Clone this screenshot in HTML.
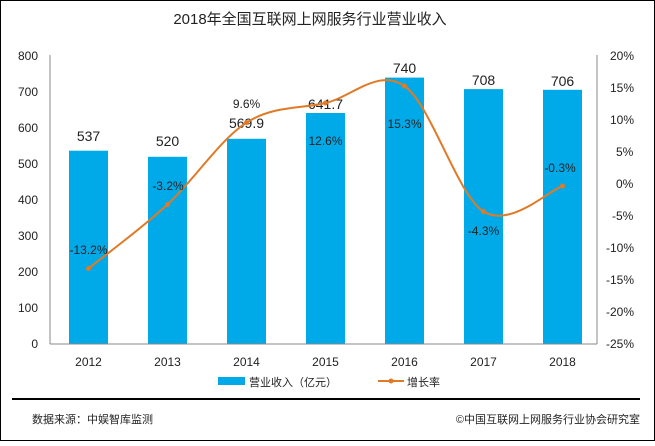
<!DOCTYPE html>
<html><head><meta charset="utf-8"><style>
body{margin:0;background:#fff}
svg text{font-family:"Liberation Sans","Noto Sans CJK SC",sans-serif;fill:#222}
</style></head><body>
<svg width="655" height="441" viewBox="0 0 655 441" xmlns="http://www.w3.org/2000/svg">
<rect x="0.5" y="0.5" width="654" height="440" fill="#fff" stroke="#000"/>
<text x="310" y="24" font-size="15" text-anchor="middle">2018年全国互联网上网服务行业营业收入</text>
<g font-size="12" text-anchor="end">
<text x="38" y="60">800</text><text x="38" y="96">700</text><text x="38" y="132">600</text><text x="38" y="168">500</text><text x="38" y="204">400</text><text x="38" y="240">300</text><text x="38" y="276">200</text><text x="38" y="312">100</text><text x="38" y="348">0</text>
</g>
<g font-size="12" text-anchor="start">
<text x="610" y="60">20%</text><text x="610" y="92">15%</text><text x="610" y="124">10%</text><text x="616" y="156">5%</text><text x="616" y="188">0%</text><text x="612" y="220">-5%</text><text x="606" y="252">-10%</text><text x="606" y="284">-15%</text><text x="606" y="316">-20%</text><text x="606" y="348">-25%</text>
</g>
<g fill="#00aae8">
<rect x="69" y="150.7" width="39" height="193.3"/>
<rect x="148" y="156.8" width="39" height="187.2"/>
<rect x="227" y="138.8" width="39" height="205.2"/>
<rect x="306" y="113" width="39" height="231"/>
<rect x="385" y="77.6" width="39" height="266.4"/>
<rect x="464" y="89.1" width="39" height="254.9"/>
<rect x="543" y="89.8" width="39" height="254.2"/>
</g>
<line x1="50" y1="55" x2="50" y2="344" stroke="#888"/>
<line x1="597" y1="55" x2="597" y2="344" stroke="#888"/>
<line x1="50" y1="344" x2="597" y2="344" stroke="#888"/>
<g font-size="14" text-anchor="middle">
<text x="88.5" y="141">537</text><text x="167.5" y="146">520</text><text x="246.5" y="128">569.9</text><text x="325.5" y="109">641.7</text><text x="404.5" y="73">740</text><text x="483.5" y="85">708</text><text x="562.5" y="86">706</text>
</g>
<path d="M88.5,268.5 C101.7,257.8 141.2,228.8 167.5,204.5 C193.8,180.2 220.2,139.5 246.5,122.6 C272.8,105.7 299.2,109.1 325.5,103 C351.8,96.9 378.2,67.9 404.5,86 C430.8,104.1 457.2,194.8 483.5,211.5 C509.8,228.2 549.3,190.2 562.5,186" fill="none" stroke="#e07a26" stroke-width="2"/>
<g fill="#e07a26"><circle cx="88.5" cy="268.5" r="2.5"/><circle cx="167.5" cy="204.5" r="2.5"/><circle cx="246.5" cy="122.6" r="2.5"/><circle cx="325.5" cy="103" r="2.5"/><circle cx="404.5" cy="86" r="2.5"/><circle cx="483.5" cy="211.5" r="2.5"/><circle cx="562.5" cy="186" r="2.5"/></g>
<g font-size="12" text-anchor="middle">
<text x="88.5" y="254">-13.2%</text><text x="168" y="190">-3.2%</text><text x="246.5" y="108">9.6%</text><text x="325.5" y="145">12.6%</text><text x="404.5" y="128">15.3%</text><text x="483.5" y="235">-4.3%</text><text x="560" y="172">-0.3%</text>
</g>
<g font-size="12" text-anchor="middle">
<text x="88.5" y="366">2012</text><text x="167.5" y="366">2013</text><text x="246.5" y="366">2014</text><text x="325.5" y="366">2015</text><text x="404.5" y="366">2016</text><text x="483.5" y="366">2017</text><text x="562.5" y="366">2018</text>
</g>
<rect x="218" y="377" width="27" height="8" fill="#00aae8"/>
<text x="249" y="386" font-size="11">营业收入（亿元）</text>
<line x1="378" y1="381" x2="404" y2="381" stroke="#e07a26" stroke-width="2"/>
<circle cx="391" cy="381" r="2.5" fill="#e07a26"/>
<text x="407" y="386" font-size="11">增长率</text>
<line x1="12" y1="399" x2="640" y2="399" stroke="#000" stroke-width="2"/>
<text x="32" y="423" font-size="11">数据来源：中娱智库监测</text>
<text x="640" y="423" font-size="11" text-anchor="end">©中国互联网上网服务行业协会研究室</text>
</svg>
</body></html>
